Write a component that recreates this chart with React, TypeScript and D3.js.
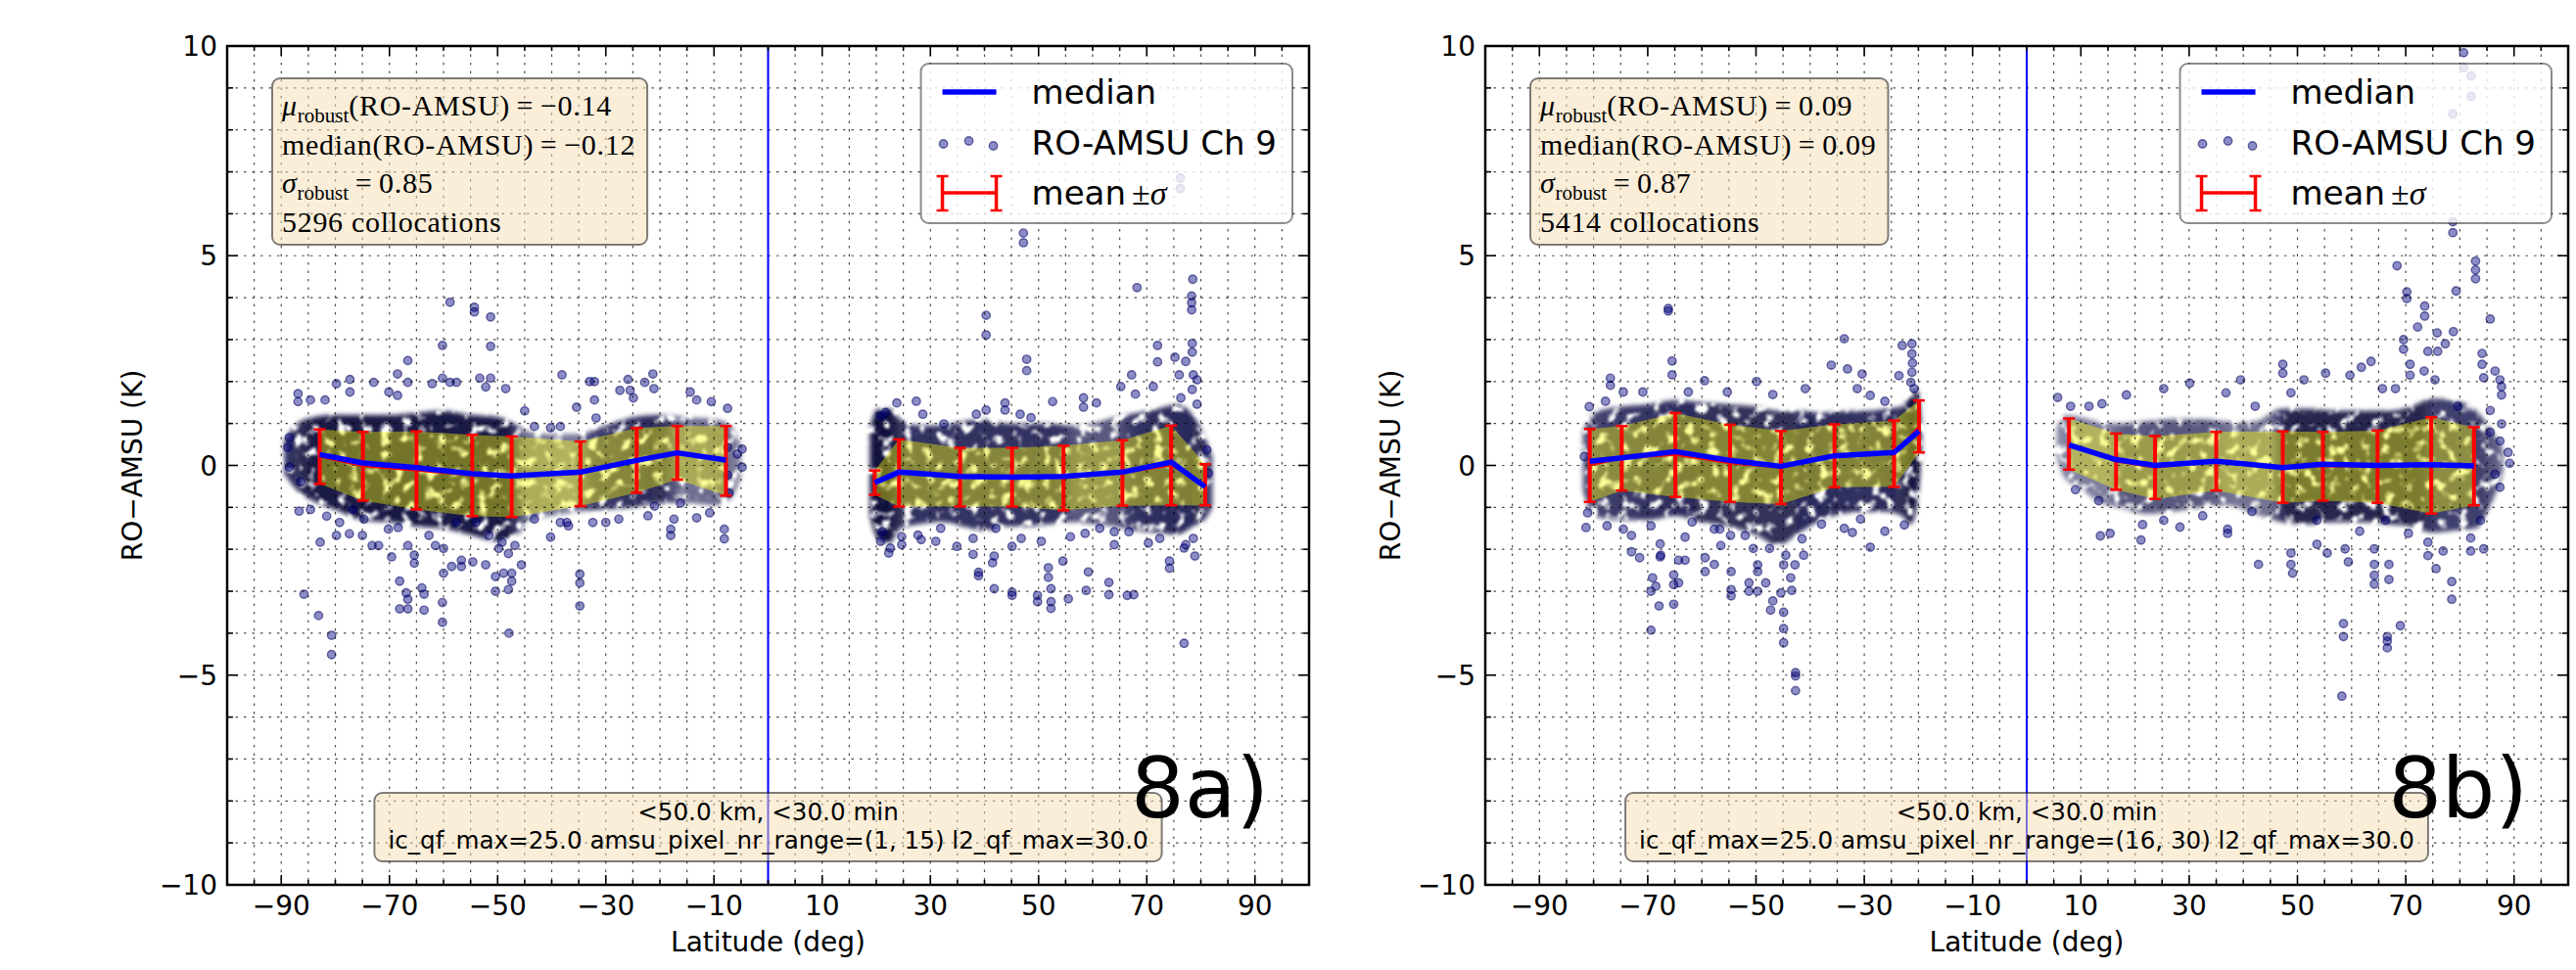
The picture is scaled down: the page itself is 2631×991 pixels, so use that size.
import React, { useEffect, useRef } from 'react';
import * as d3 from 'd3';

const FIG_W = 2631;
const FIG_H = 991;

// ---------- axis tick labels ----------
const xTickLabels = [-90, -70, -50, -30, -10, 10, 30, 50, 70, 90];
const yTickLabels = [-10, -5, 0, 5, 10];
const xDomain = [-100, 100];
const yDomain = [-10, 10];

// ---------- panel 8a : amsu pixel 1..15 ----------
const a_binLatS = [-82.9, -74.9, -65.0, -54.7, -47.4, -34.7, -24.3, -16.8, -7.8];
const a_meanS = [0.21, -0.02, -0.12, -0.24, -0.27, -0.2, 0.12, 0.3, 0.11];
const a_sigmaS = [0.65, 0.82, 0.93, 0.97, 0.96, 0.77, 0.77, 0.64, 0.83];
const a_medianS = [0.26, 0.06, -0.05, -0.2, -0.25, -0.16, 0.12, 0.3, 0.13];

const a_binLatN = [19.7, 24.2, 35.5, 45.1, 54.6, 65.5, 74.5, 80.8];
const a_meanN = [-0.41, -0.18, -0.28, -0.28, -0.3, -0.18, 0.0, -0.46];
const a_sigmaN = [0.29, 0.8, 0.7, 0.7, 0.77, 0.78, 0.95, 0.49];
const a_medianN = [-0.41, -0.16, -0.26, -0.28, -0.26, -0.16, 0.08, -0.51];

// dense part of the point cloud: [lat, top, bottom]
const a_coreS = [[-89.5, 0.6, -0.2], [-87, 1.0, -0.6], [-84, 1.15, -0.85], [-80, 1.2, -1.05], [-75, 1.2, -1.3], [-70, 1.2, -1.35], [-65, 1.25, -1.45], [-60, 1.3, -1.5], [-55, 1.2, -1.65], [-50, 1.15, -1.8], [-47, 1.0, -1.75], [-44, 0.8, -1.3], [-40, 0.75, -1.2], [-35, 0.75, -1.1], [-30, 0.95, -1.05], [-25, 1.15, -1.0], [-20, 1.2, -0.9], [-15, 1.15, -0.9], [-10, 1.1, -0.95], [-7, 0.95, -0.8], [-5, 0.5, -0.3]];
const a_densS = [[-89.5, 0.75], [-84, 0.95], [-60, 0.95], [-48, 0.95], [-45, 0.55], [-36, 0.5], [-32, 0.75], [-20, 0.85], [-16, 0.55], [-8, 0.6], [-5, 0.45]];
const a_coreN = [[18.8, 0.9, -1.2], [20.3, 1.35, -1.75], [22.4, 1.35, -1.85], [24.4, 1.1, -1.5], [28, 0.95, -1.4], [32, 0.95, -1.35], [36, 1.05, -1.45], [40, 1.1, -1.55], [44, 1.0, -1.45], [48, 1.0, -1.45], [52, 1.0, -1.4], [56, 0.95, -1.35], [60, 1.0, -1.4], [64, 1.15, -1.45], [68, 1.25, -1.55], [72, 1.35, -1.6], [75.5, 1.45, -1.65], [78.5, 1.2, -1.45], [81, 0.6, -1.25], [82.2, 0.2, -1.0]];
const a_densN = [[18.8, 0.95], [22, 1.0], [25, 0.8], [54, 0.8], [57, 0.65], [64, 0.65], [68, 0.8], [80, 0.85], [82.2, 0.65]];

const a_ptsS: [number, number][] = [[-58.8, 3.89], [-54.3, 3.77], [-54.3, 3.66], [-51.3, 3.54], [-60.2, 2.86], [-51.3, 2.84], [-66.6, 2.5], [-68.5, 2.18], [-38.1, 2.16], [-77.3, 2.05], [-60.2, 2.08], [-53.3, 2.08], [-51.3, 2.08], [-21.3, 2.18], [-25.9, 2.05], [-22.8, 1.98], [-33.0, 2.0], [-32.1, 2.0], [-66.6, 1.98], [-79.8, 1.95], [-72.9, 1.98], [-62.1, 1.95], [-58.8, 1.98], [-57.6, 1.98], [-48.5, 1.83], [-77.3, 1.75], [-86.9, 1.71], [-27.4, 1.79], [-25.5, 1.79], [-14.4, 1.75], [-13.2, 1.56], [-21.1, 1.83], [-24.9, 1.61], [-70.1, 1.75], [-68.5, 1.67], [-52.2, 1.87], [-35.4, 1.39], [-32.1, 1.56], [-7.5, 1.36], [-10.5, 1.52], [-45.0, 1.3], [-81.9, 1.56], [-84.6, 1.56], [-86.9, 1.52], [-88.5, 0.66], [-88.8, 0.43], [-4.8, 0.39], [-4.8, -0.04], [-5.7, 0.27], [-7.5, 0.43], [-31.8, 1.13], [-40.2, 0.9], [-43.2, 0.93], [-38.4, 0.93],
  [-86.4, -0.39], [-88.5, -0.04], [-86.7, -1.09], [-82.8, -1.83], [-79.8, -1.67], [-77.4, -1.63], [-75.0, -1.67], [-73.2, -1.91], [-74.7, -1.28], [-72.0, -1.91], [-70.2, -1.52], [-69.6, -2.18], [-68.4, -1.48], [-66.6, -1.91], [-65.4, -2.14], [-65.4, -2.33], [-62.7, -1.67], [-61.5, -1.91], [-60.0, -1.98], [-60.0, -2.57], [-58.5, -2.41], [-56.7, -2.26], [-56.7, -2.41], [-54.6, -2.3], [-52.2, -2.37], [-50.4, -2.65], [-48.9, -2.57], [-47.4, -2.57], [-47.4, -2.76], [-45.6, -2.37], [-48.0, -2.1], [-46.8, -1.91], [-49.8, -1.98], [-40.2, -1.71], [-38.4, -1.36], [-36.9, -1.44], [-68.1, -2.76], [-66.9, -3.04], [-66.6, -3.19], [-68.1, -3.42], [-66.6, -3.42], [-64.0, -2.92], [-63.6, -3.07], [-63.6, -3.45], [-60.2, -3.27], [-60.2, -3.74], [-50.4, -3.0], [-48.0, -2.96], [-47.9, -4.0], [-85.8, -3.07], [-83.1, -3.58], [-80.7, -4.05], [-80.7, -4.51], [-34.8, -2.59], [-34.8, -2.8], [-34.8, -3.35], [-18.0, -1.52], [-18.0, -1.67], [-8.1, -1.52], [-8.1, -1.75], [-13.2, -1.25], [-17.4, -1.28], [-30.0, -1.36], [-27.6, -1.28], [-22.2, -1.2], [-7.2, -0.66], [-7.5, -0.23], [-32.4, -1.36], [-37.2, -1.36], [-43.2, -1.28], [-21.0, -0.97], [-16.2, -0.9], [-10.8, -1.13], [-79.2, -1.36], [-81.6, -1.21], [-84.6, -1.05], [-76.8, -1.05], [-57.6, -1.36], [-54.0, -1.36], [-51.6, -1.67], [-49.2, -1.83]];

const a_ptsN: [number, number][] = [[47.2, 5.54], [47.2, 5.31], [40.3, 3.58], [40.3, 3.11], [47.8, 2.53], [47.8, 2.26], [68.2, 4.24], [78.5, 4.44], [78.3, 4.04], [78.3, 3.88], [78.3, 3.71], [72.0, 2.86], [72.0, 2.47], [75.2, 2.58], [77.2, 2.48], [78.4, 2.91], [78.4, 2.7], [67.2, 2.16], [67.9, 1.7], [65.2, 1.88], [71.2, 1.88], [76.0, 2.16], [78.6, 2.16], [79.3, 2.04], [76.3, 1.61], [78.4, 1.81], [79.3, 1.46], [58.3, 1.61], [58.3, 1.39], [60.7, 1.49], [52.6, 1.52], [23.8, 1.49], [27.4, 1.53], [43.8, 1.49], [43.8, 1.32], [46.6, 1.22], [48.6, 1.14], [40.3, 1.32], [38.5, 1.22], [32.5, 0.99], [28.6, 1.22], [21.7, 1.26], [20.8, 1.18], [81.1, 0.37], [81.4, -0.18], [76.2, 6.85], [76.2, 6.6],
  [22.3, -2.09], [22.6, -1.97], [20.8, -1.81], [24.7, -1.89], [28.3, -1.77], [31.0, -1.81], [34.9, -1.93], [37.9, -2.12], [38.9, -2.55], [38.9, -2.63], [41.8, -2.94], [41.5, -2.32], [41.8, -2.16], [45.1, -1.93], [45.1, -3.02], [45.1, -3.1], [46.8, -1.74], [49.8, -3.1], [49.8, -3.25], [50.5, -1.81], [51.8, -2.44], [51.8, -2.67], [52.3, -2.94], [52.3, -3.25], [52.3, -3.41], [54.5, -2.28], [55.5, -3.18], [59.2, -2.54], [58.8, -2.98], [63.0, -2.79], [63.0, -3.08], [64.0, -1.89], [64.0, -1.58], [66.4, -3.1], [67.6, -3.08], [74.2, -2.28], [74.2, -2.45], [76.9, -1.97], [77.2, -1.89], [78.9, -2.16], [78.6, -1.74], [76.9, -4.24], [70.3, -1.85], [72.4, -1.74], [66.7, -1.58], [61.3, -1.5], [55.9, -1.7], [58.6, -1.62], [42.1, -1.5], [37.9, -1.74], [31.9, -1.5], [27.7, -1.66], [24.7, -1.7], [21.1, -1.58]];

const a_muRobust = -0.14;
const a_medianAll = -0.12;
const a_sigmaRobust = 0.85;
const a_count = 5296;
const a_pixelRange = '(1, 15)';

// ---------- panel 8b : amsu pixel 16..30 ----------
const b_binLatS = [-80.7, -74.8, -64.9, -54.8, -45.4, -35.5, -24.5, -19.9];
const b_meanS = [0.0, 0.17, 0.25, 0.05, -0.05, 0.23, 0.28, 0.93];
const b_sigmaS = [0.87, 0.77, 1.0, 0.92, 0.87, 0.75, 0.79, 0.62];
const b_medianS = [0.1, 0.18, 0.33, 0.12, -0.02, 0.23, 0.31, 0.82];

const b_binLatN = [7.8, 16.5, 23.7, 35.0, 47.3, 54.7, 64.8, 74.7, 82.6];
const b_meanN = [0.51, 0.09, -0.05, 0.1, -0.04, -0.02, -0.03, 0.0, -0.02];
const b_sigmaN = [0.61, 0.67, 0.75, 0.7, 0.85, 0.82, 0.86, 1.15, 0.93];
const b_medianN = [0.49, 0.14, 0.0, 0.1, -0.05, 0.03, 0.0, 0.02, -0.01];

const b_coreS = [[-82, 0.8, -0.6], [-80, 1.25, -1.2], [-75, 1.4, -1.3], [-70, 1.45, -1.3], [-65, 1.55, -1.2], [-60, 1.5, -1.35], [-55, 1.45, -1.45], [-50, 1.4, -1.65], [-46, 1.3, -1.9], [-42, 1.3, -1.6], [-38, 1.25, -1.3], [-34, 1.3, -1.15], [-30, 1.3, -1.1], [-26, 1.35, -1.1], [-23, 1.4, -1.2], [-21.5, 1.7, -1.4], [-20.2, 1.8, -0.9], [-19.4, 1.0, 0.3]];
const b_densS = [[-82, 0.65], [-78, 0.75], [-60, 0.85], [-45, 0.85], [-30, 0.8], [-23, 0.85], [-21, 1.0], [-19.4, 0.85]];
const b_coreN = [[5.5, 0.9, 0.2], [7, 1.2, -0.3], [10, 1.15, -0.55], [13, 1.05, -0.85], [17, 1.0, -1.0], [22, 1.05, -1.15], [27, 1.1, -1.1], [32, 1.1, -1.0], [37, 1.05, -0.95], [42, 1.05, -1.15], [47, 1.35, -1.35], [52, 1.35, -1.4], [57, 1.3, -1.35], [62, 1.3, -1.35], [67, 1.3, -1.4], [71, 1.4, -1.45], [75, 1.6, -1.6], [79, 1.55, -1.55], [83, 1.3, -1.5], [85.5, 0.9, -1.0], [88, 0.4, -0.2]];
const b_densN = [[5.5, 0.45], [8, 0.5], [15, 0.5], [18, 0.65], [34, 0.65], [37, 0.55], [45, 0.55], [48, 0.9], [73, 0.9], [75, 0.75], [84, 0.75], [88, 0.55]];

const b_ptsS: [number, number][] = [[-66.2, 3.74], [-66.2, 3.68], [-33.7, 3.02], [-23.0, 2.86], [-21.2, 2.9], [-21.2, 2.66], [-21.1, 2.44], [-21.2, 2.22], [-23.6, 2.14], [-21.4, 1.98], [-20.8, 1.83], [-65.5, 2.49], [-65.5, 2.16], [-36.1, 2.39], [-33.1, 2.3], [-30.4, 2.18], [-76.9, 2.08], [-76.9, 1.91], [-59.5, 2.02], [-49.9, 2.0], [-26.2, 1.53], [-77.8, 1.53], [-80.8, 1.4], [-74.5, 1.75], [-70.9, 1.75], [-46.9, 1.69], [-40.9, 1.83], [-55.3, 1.75], [-31.3, 1.83], [-28.9, 1.67], [-62.5, 1.75], [-81.7, 0.21],
  [-81.4, -1.48], [-81.1, -1.13], [-77.5, -1.44], [-73.0, -2.06], [-71.5, -2.2], [-73.0, -1.67], [-69.4, -1.44], [-69.1, -2.68], [-69.4, -3.0], [-68.5, -2.88], [-67.9, -3.35], [-69.4, -3.93], [-67.7, -1.87], [-67.7, -2.18], [-65.2, -2.61], [-65.2, -2.84], [-65.2, -3.31], [-64.3, -2.8], [-64.3, -2.26], [-63.1, -2.26], [-63.1, -1.71], [-61.8, -1.35], [-59.4, -2.2], [-59.4, -2.53], [-57.7, -2.36], [-56.7, -1.52], [-56.5, -1.91], [-54.6, -2.53], [-54.6, -2.96], [-54.6, -3.11], [-51.3, -2.8], [-51.3, -3.0], [-49.7, -2.37], [-49.7, -2.53], [-49.7, -3.0], [-48.2, -2.8], [-47.3, -3.45], [-46.9, -3.23], [-44.9, -3.5], [-44.9, -3.89], [-44.9, -4.23], [-45.4, -3.04], [-44.9, -2.37], [-43.4, -2.98], [-43.6, -2.68], [-42.8, -2.37], [-42.7, -4.94], [-42.7, -5.02], [-42.7, -5.37], [-50.5, -1.98], [-47.5, -1.98], [-41.5, -1.75], [-44.5, -2.14], [-41.2, -2.14], [-37.9, -1.4], [-33.7, -1.5], [-32.2, -1.6], [-28.9, -1.95], [-26.2, -1.57], [-30.7, -1.28], [-22.6, -1.42], [-67.6, -2.14], [-74.5, -1.52], [-54.7, -1.67], [-52.0, -1.67], [-57.7, -1.52]];

const b_ptsN: [number, number][] = [[80.7, 9.84], [80.7, 9.48], [82.1, 9.29], [82.1, 8.8], [78.7, 8.38], [78.7, 5.81], [78.7, 5.55], [68.4, 4.76], [82.9, 4.87], [82.9, 4.66], [82.9, 4.45], [70.2, 4.14], [70.2, 3.98], [79.3, 4.16], [73.5, 3.8], [73.5, 3.56], [72.2, 3.3], [78.8, 3.19], [75.8, 3.16], [85.6, 3.49], [77.3, 2.9], [69.6, 3.0], [69.6, 2.77], [74.1, 2.72], [75.9, 2.72], [84.1, 2.67], [84.1, 2.41], [84.4, 2.09], [70.8, 2.41], [70.8, 2.15], [73.4, 2.25], [86.5, 2.25], [87.4, 2.04], [87.7, 1.88], [87.7, 1.68], [63.6, 2.48], [61.8, 2.34], [55.2, 2.2], [47.3, 2.41], [47.3, 2.2], [30.1, 1.96], [59.7, 2.15], [65.7, 1.83], [68.1, 1.83], [75.4, 2.04], [79.6, 1.41], [85.6, 1.31], [88.9, 0.31], [89.2, 0.05], [87.4, -0.52], [85.6, 0.79], [87.4, 0.58], [86.5, -0.21], [87.7, 0.99], [39.5, 2.04], [36.8, 1.73], [25.3, 1.83], [18.4, 1.68], [13.9, 1.47], [11.5, 1.41], [8.1, 1.41], [5.7, 1.62], [42.2, 1.41], [51.2, 2.04], [48.8, 1.73],
  [9.0, -0.58], [13.3, -0.84], [15.4, -1.62], [13.6, -1.68], [21.1, -1.78], [21.4, -1.41], [25.3, -1.31], [28.3, -1.47], [37.1, -1.52], [37.1, -1.62], [42.8, -2.36], [48.8, -2.09], [48.8, -2.36], [49.1, -2.57], [53.6, -1.88], [55.5, -2.09], [58.8, -1.99], [59.4, -2.3], [58.5, -3.77], [58.5, -4.08], [64.2, -1.99], [64.2, -2.36], [64.2, -2.62], [64.2, -2.83], [66.9, -2.36], [66.9, -2.72], [69.0, -3.82], [66.6, -4.08], [66.6, -4.19], [66.6, -4.35], [58.2, -5.5], [74.1, -1.83], [74.1, -2.15], [75.6, -2.46], [78.5, -2.77], [78.5, -3.19], [82.0, -1.73], [82.0, -2.04], [84.4, -1.99], [76.9, -2.04], [61.5, -1.57], [70.5, -1.62], [32.5, -1.2], [41.6, -1.1], [53.6, -1.31], [66.3, -1.31], [83.8, -1.31]];

const b_muRobust = 0.09;
const b_medianAll = 0.09;
const b_sigmaRobust = 0.87;
const b_count = 5414;
const b_pixelRange = '(16, 30)';

// ---------- layout ----------
const PLOT_TOP = 47;
const PLOT_BOTTOM = 904;
const SANS = "'DejaVu Sans', sans-serif";
const SERIF = "'Liberation Serif', 'DejaVu Serif', serif";
const DOT_R = 4.2;

type Seg = { lat: number[]; mean: number[]; sigma: number[]; median: number[]; core: number[][]; dens: number[][]; pts: [number, number][] };
type Panel = { id: string; left: number; right: number; label: string; segs: Seg[]; mu: number; med: number; sig: number; count: number; pixelRange: string };

const panels: Panel[] = [
  {
    id: 'a', left: 232, right: 1337, label: '8a)',
    segs: [
      { lat: a_binLatS, mean: a_meanS, sigma: a_sigmaS, median: a_medianS, core: a_coreS, dens: a_densS, pts: a_ptsS },
      { lat: a_binLatN, mean: a_meanN, sigma: a_sigmaN, median: a_medianN, core: a_coreN, dens: a_densN, pts: a_ptsN },
    ],
    mu: a_muRobust, med: a_medianAll, sig: a_sigmaRobust, count: a_count, pixelRange: a_pixelRange,
  },
  {
    id: 'b', left: 1517, right: 2623, label: '8b)',
    segs: [
      { lat: b_binLatS, mean: b_meanS, sigma: b_sigmaS, median: b_medianS, core: b_coreS, dens: b_densS, pts: b_ptsS },
      { lat: b_binLatN, mean: b_meanN, sigma: b_sigmaN, median: b_medianN, core: b_coreN, dens: b_densN, pts: b_ptsN },
    ],
    mu: b_muRobust, med: b_medianAll, sig: b_sigmaRobust, count: b_count, pixelRange: b_pixelRange,
  },
];

const fmt = (v: number) => (v < 0 ? '\u2212' : '') + Math.abs(v).toFixed(2);
const fmtTick = (v: number) => (v < 0 ? '\u2212' : '') + Math.abs(v);

function drawPanel(root: any, p: Panel) {
  const x = d3.scaleLinear().domain(xDomain).range([p.left, p.right]);
  const y = d3.scaleLinear().domain(yDomain).range([PLOT_BOTTOM, PLOT_TOP]);
  const defs = root.append('defs');
  const clipId = `clip-${p.id}`;
  defs.append('clipPath').attr('id', clipId).append('rect')
    .attr('x', p.left).attr('y', PLOT_TOP).attr('width', p.right - p.left).attr('height', PLOT_BOTTOM - PLOT_TOP);

  // speckle filter: soft edges + noisy mask, imitating many overlapping translucent dots
  const fid = `speck-${p.id}`;
  const f = defs.append('filter').attr('id', fid).attr('x', '-5%').attr('y', '-40%').attr('width', '110%').attr('height', '180%');
  f.append('feGaussianBlur').attr('in', 'SourceGraphic').attr('stdDeviation', 2.2).attr('result', 'soft');
  f.append('feTurbulence').attr('type', 'fractalNoise').attr('baseFrequency', 0.09).attr('numOctaves', 2).attr('seed', p.id === 'a' ? 4 : 9).attr('result', 'noise');
  f.append('feColorMatrix').attr('in', 'noise').attr('type', 'matrix')
    .attr('values', '0 0 0 0 0  0 0 0 0 0  0 0 0 0 0  5.5 0 0 0 -1.55').attr('result', 'mask');
  f.append('feComposite').attr('in', 'soft').attr('in2', 'mask').attr('operator', 'in').attr('result', 'sp');
  f.append('feGaussianBlur').attr('in', 'sp').attr('stdDeviation', 0.8);

  const plot = root.append('g').attr('clip-path', `url(#${clipId})`);

  // dense cloud
  p.segs.forEach((s, i) => {
    const gid = `dens-${p.id}-${i}`;
    const l0 = s.dens[0][0];
    const l1 = s.dens[s.dens.length - 1][0];
    const grad = defs.append('linearGradient').attr('id', gid).attr('gradientUnits', 'userSpaceOnUse')
      .attr('x1', x(l0)).attr('x2', x(l1)).attr('y1', 0).attr('y2', 0);
    s.dens.forEach(([la, d]) => {
      grad.append('stop').attr('offset', (la - l0) / (l1 - l0)).attr('stop-color', '#08083c').attr('stop-opacity', d);
    });
    const area = d3.area<number[]>().x(d => x(d[0])).y0(d => y(d[2])).y1(d => y(d[1])).curve(d3.curveMonotoneX);
    plot.append('path').datum(s.core).attr('d', area as any).attr('fill', `url(#${gid})`).attr('filter', `url(#${fid})`);
  });

  // scatter points
  p.segs.forEach(s => {
    plot.append('g').selectAll('circle').data(s.pts).join('circle')
      .attr('cx', (d: number[]) => x(d[0])).attr('cy', (d: number[]) => y(d[1])).attr('r', DOT_R)
      .attr('fill', '#000080').attr('fill-opacity', 0.45)
      .attr('stroke', '#000060').attr('stroke-opacity', 0.55).attr('stroke-width', 1.4);
  });

  // yellow mean ± sigma band
  p.segs.forEach(s => {
    const rows = s.lat.map((la, k) => ({ la, m: s.mean[k], sd: s.sigma[k] }));
    const band = d3.area<any>().x(d => x(d.la)).y0(d => y(d.m - d.sd)).y1(d => y(d.m + d.sd));
    plot.append('path').datum(rows).attr('d', band).attr('fill', '#ffff00').attr('fill-opacity', 0.4);
  });

  // grid
  const grid = plot.append('g').attr('stroke', '#000').attr('stroke-width', 1.2).attr('stroke-dasharray', '2.5,6').attr('opacity', 0.7);
  d3.range(-95, 100, 5).forEach(v => {
    grid.append('line').attr('x1', x(v)).attr('x2', x(v)).attr('y1', PLOT_TOP).attr('y2', PLOT_BOTTOM);
  });
  d3.range(-9, 10, 1).forEach(v => {
    grid.append('line').attr('x1', p.left).attr('x2', p.right).attr('y1', y(v)).attr('y2', y(v));
  });

  // errorbars, mean line, median line
  p.segs.forEach(s => {
    const rows = s.lat.map((la, k) => ({ la, m: s.mean[k], sd: s.sigma[k], md: s.median[k] }));
    plot.append('path').datum(rows)
      .attr('d', d3.line<any>().x(d => x(d.la)).y(d => y(d.m)))
      .attr('fill', 'none').attr('stroke', '#ff0000').attr('stroke-width', 2);
    const eb = plot.append('g').attr('stroke', '#ff0000');
    rows.forEach(r => {
      eb.append('line').attr('x1', x(r.la)).attr('x2', x(r.la)).attr('y1', y(r.m - r.sd)).attr('y2', y(r.m + r.sd)).attr('stroke-width', 4);
      [r.m - r.sd, r.m + r.sd].forEach(v => {
        eb.append('line').attr('x1', x(r.la) - 6).attr('x2', x(r.la) + 6).attr('y1', y(v)).attr('y2', y(v)).attr('stroke-width', 2.5);
      });
    });
    plot.append('path').datum(rows)
      .attr('d', d3.line<any>().x(d => x(d.la)).y(d => y(d.md)))
      .attr('fill', 'none').attr('stroke', '#0000ff').attr('stroke-width', 5.5).attr('stroke-linejoin', 'round');
  });

  // equator line
  plot.append('line').attr('x1', x(0)).attr('x2', x(0)).attr('y1', PLOT_TOP).attr('y2', PLOT_BOTTOM)
    .attr('stroke', '#0000ff').attr('stroke-width', 2);

  // spines
  root.append('rect').attr('x', p.left).attr('y', PLOT_TOP).attr('width', p.right - p.left).attr('height', PLOT_BOTTOM - PLOT_TOP)
    .attr('fill', 'none').attr('stroke', '#000').attr('stroke-width', 2.5);

  // ticks
  const ticks = root.append('g').attr('stroke', '#000').attr('stroke-width', 1.6);
  d3.range(-95, 100, 5).forEach(v => {
    const len = xTickLabels.includes(v) ? 10 : 5;
    ticks.append('line').attr('x1', x(v)).attr('x2', x(v)).attr('y1', PLOT_BOTTOM).attr('y2', PLOT_BOTTOM - len);
    ticks.append('line').attr('x1', x(v)).attr('x2', x(v)).attr('y1', PLOT_TOP).attr('y2', PLOT_TOP + len);
  });
  d3.range(-9, 10, 1).forEach(v => {
    const len = yTickLabels.includes(v) ? 11 : 6;
    ticks.append('line').attr('x1', p.left).attr('x2', p.left + len).attr('y1', y(v)).attr('y2', y(v));
    ticks.append('line').attr('x1', p.right).attr('x2', p.right - len).attr('y1', y(v)).attr('y2', y(v));
  });

  // tick labels
  const tl = root.append('g').attr('font-family', SANS).attr('font-size', 28).attr('fill', '#000');
  xTickLabels.forEach(v => {
    tl.append('text').attr('x', x(v)).attr('y', 935).attr('text-anchor', 'middle').text(fmtTick(v));
  });
  yTickLabels.forEach(v => {
    tl.append('text').attr('x', p.left - 10).attr('y', y(v)).attr('dy', '0.36em').attr('text-anchor', 'end').text(fmtTick(v));
  });

  // axis labels
  root.append('text').attr('font-family', SANS).attr('font-size', 28).attr('text-anchor', 'middle')
    .attr('x', (p.left + p.right) / 2).attr('y', 972).text('Latitude (deg)');
  root.append('text').attr('font-family', SANS).attr('font-size', 28).attr('text-anchor', 'middle')
    .attr('transform', `translate(${p.left - 87},${(PLOT_TOP + PLOT_BOTTOM) / 2}) rotate(-90)`).text('RO\u2212AMSU (K)');

  // stats box
  const sb = root.append('g').attr('transform', `translate(${p.left + 46},0)`);
  const st = sb.append('g').attr('font-family', SERIF).attr('font-size', 30).attr('letter-spacing', 0.7).attr('fill', '#000');
  const l1 = st.append('text').attr('x', 10).attr('y', 118);
  l1.append('tspan').attr('font-style', 'italic').text('\u03bc');
  l1.append('tspan').attr('font-size', 21).attr('dy', 7).attr('letter-spacing', 0).text('robust');
  l1.append('tspan').attr('dy', -7).text('(RO-AMSU)\u2009=\u2009' + fmt(p.mu));
  st.append('text').attr('x', 10).attr('y', 158).text('median(RO-AMSU)\u2009=\u2009' + fmt(p.med));
  const l3 = st.append('text').attr('x', 10).attr('y', 197);
  l3.append('tspan').attr('font-style', 'italic').text('\u03c3');
  l3.append('tspan').attr('font-size', 21).attr('dy', 7).attr('letter-spacing', 0).text('robust');
  l3.append('tspan').attr('dy', -7).text('\u2009=\u2009' + p.sig.toFixed(2));
  st.append('text').attr('x', 10).attr('y', 237).text(`${p.count} collocations`);
  const sbb = (st.node() as SVGGElement).getBBox();
  sb.insert('rect', ':first-child').attr('x', 0).attr('y', 80).attr('width', sbb.x + sbb.width + 12).attr('height', 170)
    .attr('rx', 8).attr('fill', '#f5deb3').attr('fill-opacity', 0.5).attr('stroke', '#000').attr('stroke-opacity', 0.5).attr('stroke-width', 2);

  // legend
  const lg = root.append('g');
  const lt = lg.append('g').attr('font-family', SANS).attr('font-size', 34).attr('fill', '#000');
  lt.append('text').attr('x', 113).attr('y', 106).text('median');
  lt.append('text').attr('x', 113).attr('y', 158).text('RO-AMSU Ch 9');
  const l3t = lt.append('text').attr('x', 113).attr('y', 209);
  l3t.append('tspan').text('mean');
  l3t.append('tspan').attr('font-family', SERIF).attr('dx', 6).text('\u00b1');
  l3t.append('tspan').attr('font-family', SERIF).attr('font-style', 'italic').text('\u03c3');
  const lbb = (lt.node() as SVGGElement).getBBox();
  const lw = lbb.x + lbb.width + 16;
  const lx = p.right - 17 - lw;
  lg.attr('transform', `translate(${lx},0)`);
  lg.insert('rect', ':first-child').attr('x', 0).attr('y', 65).attr('width', lw).attr('height', 163).attr('rx', 8)
    .attr('fill', '#fff').attr('fill-opacity', 0.8).attr('stroke', '#000').attr('stroke-opacity', 0.45).attr('stroke-width', 2);
  lg.append('line').attr('x1', 22).attr('x2', 77).attr('y1', 94).attr('y2', 94).attr('stroke', '#0000ff').attr('stroke-width', 5.5);
  [[23, 147], [49, 144], [74, 149]].forEach(([cx, cy]) => {
    lg.append('circle').attr('cx', cx).attr('cy', cy).attr('r', DOT_R).attr('fill', '#000080').attr('fill-opacity', 0.45)
      .attr('stroke', '#000060').attr('stroke-opacity', 0.55).attr('stroke-width', 1.4);
  });
  const lr = lg.append('g').attr('stroke', '#ff0000');
  lr.append('line').attr('x1', 22).attr('x2', 77).attr('y1', 197).attr('y2', 197).attr('stroke-width', 3.5);
  [22, 77].forEach(cx => {
    lr.append('line').attr('x1', cx).attr('x2', cx).attr('y1', 180).attr('y2', 215).attr('stroke-width', 3.5);
    lr.append('line').attr('x1', cx - 6).attr('x2', cx + 6).attr('y1', 180).attr('y2', 180).attr('stroke-width', 2.5);
    lr.append('line').attr('x1', cx - 6).attr('x2', cx + 6).attr('y1', 215).attr('y2', 215).attr('stroke-width', 2.5);
  });

  // bottom criteria box
  const cx = (p.left + p.right) / 2;
  const bb = root.append('g');
  const bt = bb.append('g').attr('font-family', SANS).attr('font-size', 24.6).attr('fill', '#000').attr('text-anchor', 'middle');
  bt.append('text').attr('x', cx).attr('y', 838).text('<50.0 km, <30.0 min');
  bt.append('text').attr('x', cx).attr('y', 867).text(`ic_qf_max=25.0 amsu_pixel_nr_range=${p.pixelRange} l2_qf_max=30.0`);
  const bbb = (bt.node() as SVGGElement).getBBox();
  bb.insert('rect', ':first-child').attr('x', bbb.x - 14).attr('y', 810).attr('width', bbb.width + 28).attr('height', 70).attr('rx', 8)
    .attr('fill', '#f5deb3').attr('fill-opacity', 0.5).attr('stroke', '#000').attr('stroke-opacity', 0.5).attr('stroke-width', 2);

  // panel label
  root.append('text').attr('font-family', SANS).attr('font-size', 86).attr('text-anchor', 'end')
    .attr('x', p.right - 41).attr('y', 835).text(p.label);
}

export default function App() {
  const ref = useRef<SVGSVGElement>(null);
  useEffect(() => {
    const svg = d3.select(ref.current);
    svg.selectAll('*').remove();
    svg.append('rect').attr('width', FIG_W).attr('height', FIG_H).attr('fill', '#fff');
    panels.forEach(p => drawPanel(svg, p));
  }, []);
  return (
    <svg ref={ref} width={FIG_W} height={FIG_H}
      style={{ position: 'absolute', left: 0, top: 0, display: 'block', background: '#fff' }} />
  );
}
